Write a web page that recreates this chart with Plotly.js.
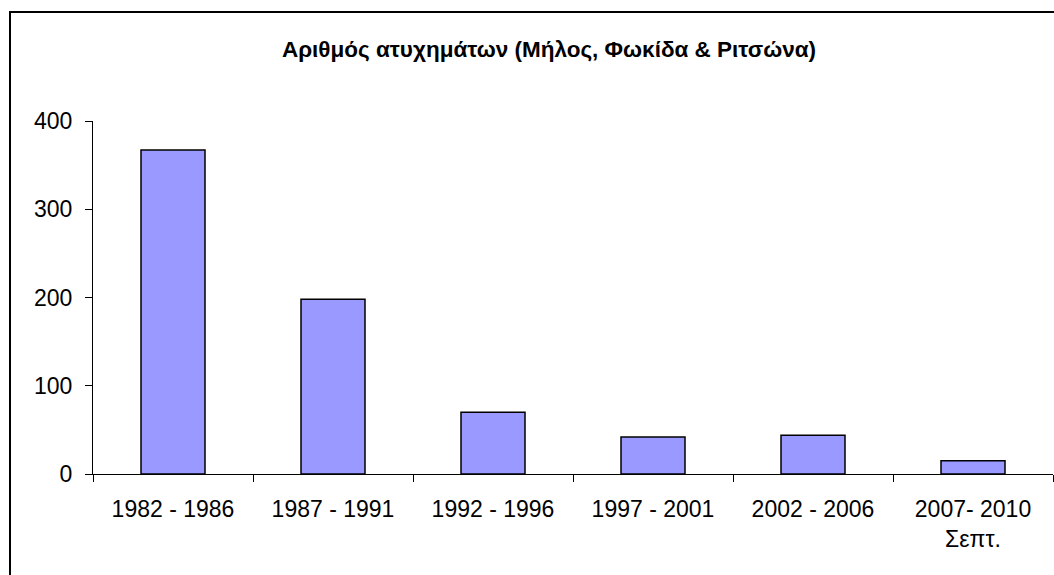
<!DOCTYPE html>
<html>
<head>
<meta charset="utf-8">
<script src="https://cdn.plot.ly/plotly-3.0.1.min.js"></script>
<style>
html,body{margin:0;padding:0;background:#fff;overflow:hidden;}
#frame{position:absolute;left:9px;top:11px;width:1200px;height:700px;border-left:2px solid #000;border-top:2px solid #000;box-sizing:border-box;}
#chart{position:absolute;left:0;top:0;width:1054px;height:575px;}
</style>
</head>
<body>
<div id="frame"></div>
<div id="chart"></div>
<script>
const categories = ["1982 - 1986", "1987 - 1991", "1992 - 1996", "1997 - 2001", "2002 - 2006", "2007- 2010<br>Σεπτ."];
const accidents = [367, 198, 70, 42, 44, 15];
const yTicks = [0, 100, 200, 300, 400];
const chartTitle = "Αριθμός ατυχημάτων (Μήλος, Φωκίδα & Ριτσώνα)";

const trace = {
  type: "bar",
  x: categories,
  y: accidents,
  marker: {color: "#9999FF", line: {color: "#000000", width: 1.5}},
  hoverinfo: "x+y"
};

const layout = {
  width: 1054,
  height: 575,
  paper_bgcolor: "rgba(0,0,0,0)",
  plot_bgcolor: "rgba(0,0,0,0)",
  margin: {l: 93, r: 1, t: 121, b: 101},
  bargap: 0.6,
  showlegend: false,
  font: {family: "Liberation Sans, Arial, sans-serif", color: "#000", size: 22},
  title: {
    text: "<b>" + chartTitle + "</b>",
    font: {family: "Liberation Sans, Arial, sans-serif", size: 22.5, color: "#000"},
    xref: "container", x: 549 / 1054, xanchor: "center",
    yref: "container", y: 1 - 49 / 575, yanchor: "middle"
  },
  xaxis: {
    type: "category",
    showgrid: false,
    zeroline: false,
    showline: true,
    linecolor: "#000",
    linewidth: 1,
    ticks: "outside",
    tickson: "boundaries",
    ticklen: 7,
    tickcolor: "#000",
    tickfont: {size: 23},
    ticklabelstandoff: 14,
    fixedrange: true
  },
  yaxis: {
    range: [0, 400],
    tickvals: yTicks,
    ticktext: yTicks.map(String),
    showgrid: false,
    zeroline: false,
    showline: true,
    linecolor: "#000",
    linewidth: 1,
    ticks: "outside",
    ticklen: 7,
    tickcolor: "#000",
    tickfont: {size: 23},
    ticklabelstandoff: 8,
    fixedrange: true
  }
};

Plotly.newPlot("chart", [trace], layout, {displayModeBar: false, staticPlot: true});
</script>
</body>
</html>
